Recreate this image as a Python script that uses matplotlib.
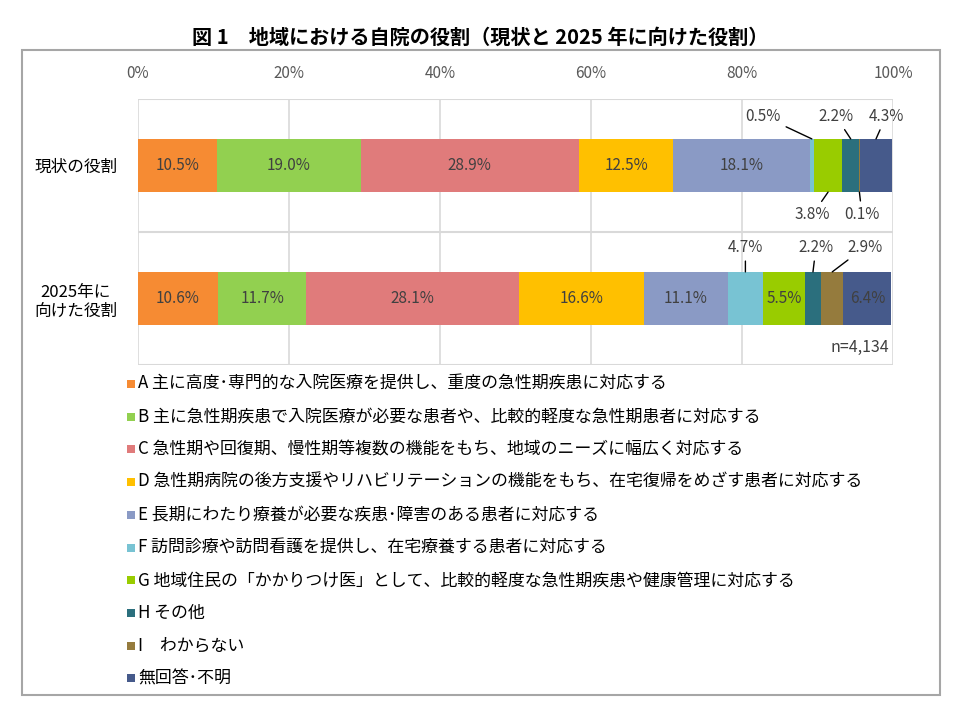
import matplotlib
matplotlib.use("Agg")
import matplotlib.pyplot as plt
from matplotlib.patches import Rectangle

plt.rcParams['font.family'] = ['Noto Sans CJK JP', 'DejaVu Sans']

# ---- data ----
rows = ["現状の役割", "2025年に\n向けた役割"]
series_keys = ["A", "B", "C", "D", "E", "F", "G", "H", "I", "N"]
current_values = [10.5, 19.0, 28.9, 12.5, 18.1, 0.5, 3.8, 2.2, 0.1, 4.3]
future_values = [10.6, 11.7, 28.1, 16.6, 11.1, 4.7, 5.5, 2.2, 2.9, 6.4]
colors = ["#F68B33", "#92D050", "#E07B7B", "#FFC000", "#8A9AC5",
          "#78C3D3", "#99CC00", "#2B6F7D", "#957B3D", "#465A8B"]
legend_labels = [
    "A 主に高度･専門的な入院医療を提供し、重度の急性期疾患に対応する",
    "B 主に急性期疾患で入院医療が必要な患者や、比較的軽度な急性期患者に対応する",
    "C 急性期や回復期、慢性期等複数の機能をもち、地域のニーズに幅広く対応する",
    "D 急性期病院の後方支援やリハビリテーションの機能をもち、在宅復帰をめざす患者に対応する",
    "E 長期にわたり療養が必要な疾患･障害のある患者に対応する",
    "F 訪問診療や訪問看護を提供し、在宅療養する患者に対応する",
    "G 地域住民の「かかりつけ医」として、比較的軽度な急性期疾患や健康管理に対応する",
    "H その他",
    "I　わからない",
    "無回答･不明",
]
xticks = [0, 20, 40, 60, 80, 100]
xtick_labels = ["0%", "20%", "40%", "60%", "80%", "100%"]
title = "図 1　地域における自院の役割（現状と 2025 年に向けた役割）"
note = "n=4,134"

# small segments labelled outside: series index -> (text x in %, text y in data)
outside_current = {5: (82.8, 1.372), 7: (92.4, 1.372), 9: (99.1, 1.372),
                   6: (89.3, 0.628), 8: (95.9, 0.628)}
outside_future = {5: (80.45, 0.387), 7: (89.8, 0.387), 8: (96.3, 0.387)}

# ---- figure ----
W, H = 960, 720
fig = plt.figure(figsize=(9.6, 7.2), dpi=100)

# frame
fig.patches.append(Rectangle((22 / W, 1 - 695 / H), (940 - 22) / W, (695 - 50) / H,
                             transform=fig.transFigure, fill=False,
                             edgecolor="#A6A6A6", linewidth=1.5))
fig.text(480 / W, 1 - 37 / H, title, ha="center", va="center",
         fontsize=14.5, fontweight="bold", color="#000000")

ax = fig.add_axes([138 / W, 1 - 365 / H, (893 - 138) / W, (365 - 99) / H])
ax.set_xlim(0, 100)
ax.set_ylim(-0.5, 1.5)

ypos = [1, 0]
data_rows = [current_values, future_values]
outs = [outside_current, outside_future]
bh = 0.4
for r, (y, vals) in enumerate(zip(ypos, data_rows)):
    left = 0.0
    for i, v in enumerate(vals):
        ax.barh(y, v, left=left, height=bh, color=colors[i], edgecolor="none", zorder=3)
        cx = left + v / 2
        lab = f"{v:.1f}%"
        if i in outs[r]:
            tx, ty = outs[r][i]
            ey = y + bh / 2 if ty > y else y - bh / 2
            ax.annotate(lab, xy=(cx, ey), xytext=(tx, ty), ha="center", va="center",
                        fontsize=11, color="#404040", zorder=5,
                        arrowprops=dict(arrowstyle="-", color="#000000", lw=1.0,
                                        shrinkA=2, shrinkB=0))
        else:
            ax.text(cx, y, lab, ha="center", va="center", fontsize=11,
                    color="#404040", zorder=5)
        left += v

# grid
for xt in xticks:
    ax.axvline(xt, color="#D9D9D9", lw=1.2, zorder=1)
for yl in [-0.5, 0.5, 1.5]:
    ax.axhline(yl, color="#D9D9D9", lw=1.5, zorder=1)
for s in ax.spines.values():
    s.set_visible(False)

ax.xaxis.tick_top()
ax.set_xticks(xticks)
ax.set_xticklabels(xtick_labels, fontsize=11, color="#595959")
ax.tick_params(axis="x", length=0, pad=12)
ax.set_yticks(ypos)
ax.set_yticklabels(rows, fontsize=12, color="#000000", multialignment="center")
ax.tick_params(axis="y", length=0, pad=15)

ax.text(99.5, -0.37, note, ha="right", va="center", fontsize=11.5, color="#404040")

# legend
y0, dy = 384, 32.7
for i, (lab, c) in enumerate(zip(legend_labels, colors)):
    yy = 1 - (y0 + i * dy) / H
    fig.patches.append(Rectangle((127 / W, yy - 4 / H), 8 / W, 8 / H,
                                 transform=fig.transFigure, facecolor=c,
                                 edgecolor="none"))
    fig.text(138 / W, yy, lab, ha="left", va="center", fontsize=12.2, color="#000000")

fig.savefig("out.png", dpi=100)
